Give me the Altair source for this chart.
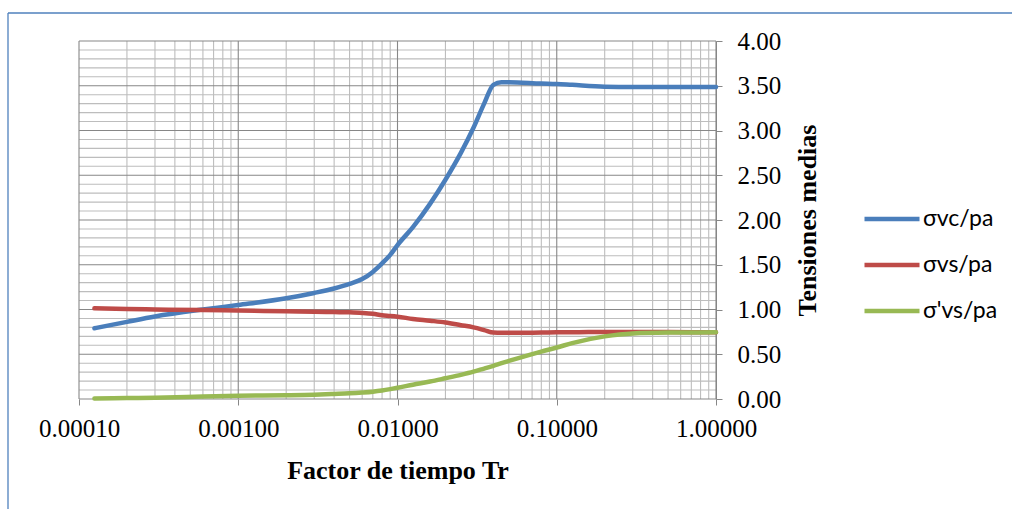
import altair as alt
import pandas as pd

# Time factor values (x) and the three curves (y)
T = [0.000125, 0.0002, 0.0003, 0.0006, 0.001, 0.002, 0.003, 0.004, 0.005, 0.006,
     0.007, 0.008, 0.009, 0.01, 0.0125, 0.016, 0.02, 0.025, 0.03, 0.035,
     0.04, 0.045, 0.05, 0.08, 0.1, 0.125, 0.2, 0.3, 0.5, 1.0]
svc = [0.79, 0.862, 0.922, 1.0, 1.05, 1.125, 1.185, 1.235, 1.285, 1.34,
       1.42, 1.515, 1.61, 1.72, 1.92, 2.18, 2.45, 2.75, 3.03, 3.30,
       3.51, 3.54, 3.54, 3.525, 3.52, 3.51, 3.49, 3.485, 3.485, 3.485]
svs = [1.013, 1.005, 1.0, 0.995, 0.988, 0.98, 0.975, 0.971, 0.968, 0.962,
       0.952, 0.935, 0.928, 0.92, 0.895, 0.875, 0.855, 0.825, 0.80, 0.77,
       0.742, 0.74, 0.74, 0.742, 0.745, 0.745, 0.75, 0.75, 0.748, 0.745]
sevs = [0.005, 0.01, 0.015, 0.028, 0.037, 0.042, 0.048, 0.056, 0.063, 0.072,
        0.082, 0.095, 0.11, 0.125, 0.16, 0.195, 0.232, 0.27, 0.305, 0.34,
        0.37, 0.40, 0.425, 0.53, 0.575, 0.625, 0.70, 0.733, 0.742, 0.745]

series_names = ["σvc/pa", "σvs/pa", "σ'vs/pa"]
series_colors = ["#4A7EBB", "#BE4B48", "#98B954"]

x_major = [0.0001, 0.001, 0.01, 0.1, 1.0]
x_minor = [k * 10.0 ** d for d in range(-4, 0) for k in range(2, 10)]
y_major = [0.0, 0.5, 1.0, 1.5, 2.0, 2.5, 3.0, 3.5, 4.0]
y_minor = [i / 10 for i in range(1, 40) if i % 5]

rows = []
for name, vals in zip(series_names, [svc, svs, sevs]):
    for t, v in zip(T, vals):
        rows.append({"T": t, "v": v, "serie": name})
df = pd.DataFrame(rows)

W, H = 637, 358
xscale = alt.Scale(type="log", domain=[0.0001, 1.0])
yscale = alt.Scale(domain=[0, 4])

minor_x = alt.Chart(pd.DataFrame({"T": x_minor})).mark_rule(
    color="#BDBDBD", strokeWidth=1.1).encode(x=alt.X("T:Q", scale=xscale))
minor_y = alt.Chart(pd.DataFrame({"v": y_minor})).mark_rule(
    color="#BDBDBD", strokeWidth=1.1).encode(y=alt.Y("v:Q", scale=yscale))
major_x = alt.Chart(pd.DataFrame({"T": x_major})).mark_rule(
    color="#878787", strokeWidth=1.1).encode(x=alt.X("T:Q", scale=xscale))
major_y = alt.Chart(pd.DataFrame({"v": y_major})).mark_rule(
    color="#878787", strokeWidth=1.1).encode(y=alt.Y("v:Q", scale=yscale))

lines = alt.Chart(df).mark_line(strokeWidth=4.5, interpolate="monotone",
                                strokeCap="round", strokeJoin="round").encode(
    x=alt.X("T:Q", scale=xscale, title="Factor de tiempo Tr",
            axis=alt.Axis(values=x_major, format=".5f", grid=False,
                          labelFlush=False, labelOverlap=False,
                          labelFont="Liberation Serif", labelFontSize=25,
                          labelColor="#000000", labelPadding=11,
                          tickSize=6, tickColor="#878787", domain=False,
                          titleFont="Liberation Serif", titleFontSize=26,
                          titleFontWeight="bold", titleColor="#000000",
                          titleBaseline="middle", titleY=71)),
    y=alt.Y("v:Q", scale=yscale, title="Tensiones medias",
            axis=alt.Axis(orient="right", values=y_major, format=".2f", grid=False,
                          labelFlush=False, labelOverlap=False,
                          labelFont="Liberation Serif", labelFontSize=25,
                          labelColor="#000000", labelPadding=15,
                          tickSize=6, tickColor="#878787",
                          domainColor="#878787",
                          titleFont="Liberation Serif", titleFontSize=26,
                          titleFontWeight="bold", titleColor="#000000",
                          titleAngle=270, titleAlign="center",
                          titleBaseline="middle", titleX=91, titleY=179)),
    color=alt.Color("serie:N", sort=series_names,
                    scale=alt.Scale(domain=series_names, range=series_colors),
                    legend=alt.Legend(title=None, orient="none", legendX=783,
                                      legendY=148, symbolType="stroke",
                                      symbolSize=3025, symbolStrokeWidth=4.5,
                                      rowPadding=4,
                                      labelFont="Lato", labelFontSize=23,
                                      labelColor="#000000", labelOffset=1)),
)

border_top = alt.Chart(alt.Data(values=[{}])).mark_rule(
    color="#4F81BD", strokeWidth=1.3).encode(
    x=alt.value(-71), x2=alt.value(940), y=alt.value(-28))
border_left = alt.Chart(alt.Data(values=[{}])).mark_rule(
    color="#4F81BD", strokeWidth=1.3).encode(
    x=alt.value(-71), y=alt.value(-28), y2=alt.value(480))

chart = alt.layer(minor_x, minor_y, major_x, major_y, lines, border_top, border_left).properties(
    width=W, height=H,
    autosize=alt.AutoSizeParams(type="none"),
    padding={"left": 79, "top": 41, "right": 296, "bottom": 110},
    background="white",
).configure_view(stroke=None)

chart.save("out.html", embed_options={"renderer": "svg", "actions": False})
